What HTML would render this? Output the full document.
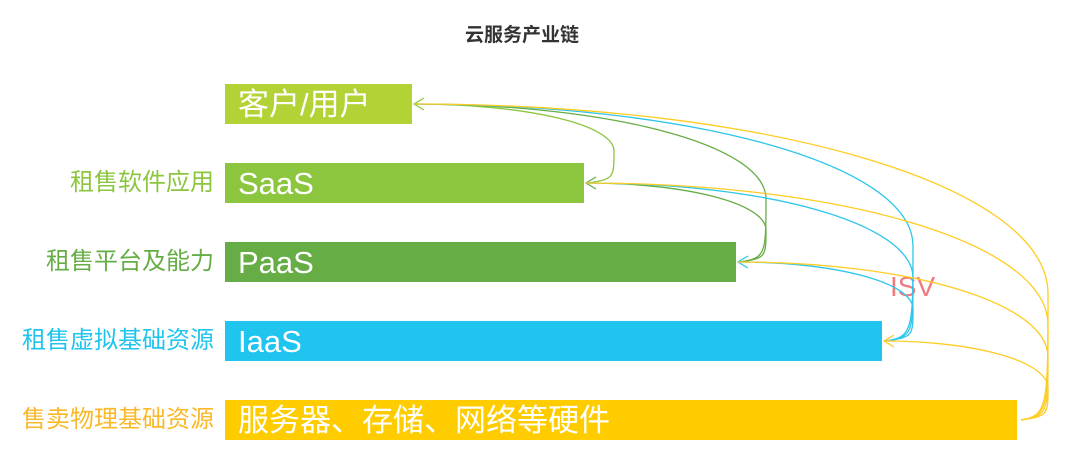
<!DOCTYPE html>
<html><head><meta charset="utf-8"><style>
body{margin:0;width:1080px;height:468px;background:#fff;position:relative;overflow:hidden;font-family:"Liberation Sans","Noto Sans CJK SC",sans-serif}
.t{position:absolute;left:0;width:1044px;top:20px;text-align:center;font-weight:bold;font-size:19px;color:#333}
.b{position:absolute;left:225px;height:40px;color:#fff;font-size:31px;line-height:42px;padding-left:13px;box-sizing:border-box;white-space:nowrap}
.l{position:absolute;right:866px;font-size:24px;line-height:40px;white-space:nowrap}
</style></head><body>
<div class="t">云服务产业链</div>
<div class="b" style="top:84px;width:187px;background:#b3d236">客户/用户</div>
<div class="b" style="top:163px;width:359px;background:#8cc63f">SaaS</div>
<div class="b" style="top:242px;width:511px;background:#66ad45">PaaS</div>
<div class="b" style="top:321px;width:657px;background:#1fc4ef">IaaS</div>
<div class="b" style="top:400px;width:792px;background:#ffcc00">服务器、存储、网络等硬件</div>
<div class="l" style="top:163px;color:#8cc63f">租售软件应用</div>
<div class="l" style="top:242px;color:#66ad45">租售平台及能力</div>
<div class="l" style="top:321px;color:#1fc4ef">租售虚拟基础资源</div>
<div class="l" style="top:400px;color:#fbb829">售卖物理基础资源</div>
<div style="position:absolute;left:890px;top:271px;font-size:28px;color:#f07a80">ISV</div>
<svg width="1080" height="468" style="position:absolute;left:0;top:0" fill="none" stroke-width="1.3">
<g stroke="#8cc63f"><path d="M414 104 C524 104 614 124 614 151 S614 179 588 183"/><path d="M424 98 L414 104 L424 110"/></g>
<g stroke="#66ad45">
<path d="M414 104 C607 104 766 144 766 199 S766 258 740 262"/>
<path d="M586 183 C685 183 766 203 766 230 S766 258 740 262"/>
<path d="M596 177 L586 183 L596 189"/></g>
<g stroke="#2ec5ea">
<path d="M414 104 C688 104 913 163 913 246 S913 337 886 341"/>
<path d="M586 183 C766 183 913 223 913 278 S913 337 886 341"/>
<path d="M738 262 C834 262 913 282 913 309 S913 337 886 341"/>
<path d="M748 256 L738 262 L748 268"/></g>
<g stroke="#ffcc22">
<path d="M414 104 C762 104 1048 183 1048 294 S1048 416 1021 420"/>
<path d="M586 183 C840 183 1048 242 1048 325 S1048 416 1021 420"/>
<path d="M738 262 C908 262 1048 302 1048 357 S1048 416 1021 420"/>
<path d="M884 341 C974 341 1048 361 1048 388 S1048 416 1021 420"/>
<path d="M894 335 L884 341 L894 347"/></g>
</svg>
</body></html>
